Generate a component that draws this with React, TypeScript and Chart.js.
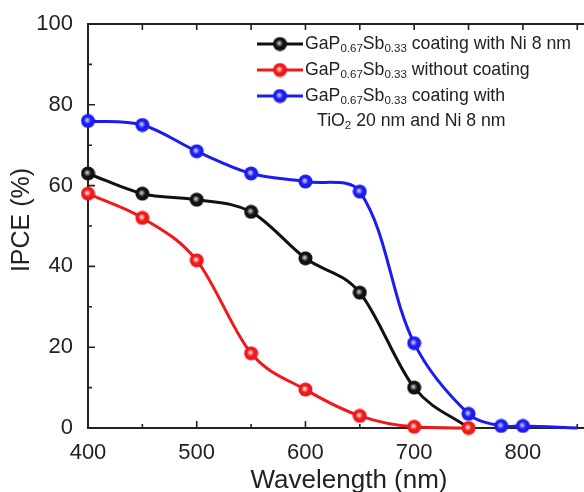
import React, { useEffect, useRef } from "react";
import { Chart, registerables } from "chart.js";

Chart.register(...registerables);

const wavelengthsBlack = [400, 450, 500, 550, 600, 650, 700, 750];
const ipceBlack = [63, 58, 56.5, 53.5, 42, 33.5, 10, 0];
const wavelengthsRed = [400, 450, 500, 550, 600, 650, 700, 750];
const ipceRed = [58, 52, 41.5, 18.5, 9.5, 3, 0.3, 0];
const wavelengthsBlue = [400, 450, 500, 550, 600, 650, 700, 750, 780, 800, 850];
const ipceBlue = [76, 75, 68.5, 63, 61, 58.5, 21, 3.5, 0.5, 0.5, 0];
const xTickLabels = [400, 500, 600, 700, 800];
const yTickLabels = [0, 20, 40, 60, 80, 100];

const BLACK = "#111111";
const RED = "#f01818";
const BLUE = "#1c1cf0";
const FONT = "'Liberation Sans', Arial, sans-serif";
const TEXT = "#222222";

function makeMarker(color: string, light: string): HTMLCanvasElement {
  const c = document.createElement("canvas");
  const d = 15;
  c.width = d;
  c.height = d;
  const ctx = c.getContext("2d")!;
  const g = ctx.createRadialGradient(d / 2 - 1, d / 2 - 1, 0.5, d / 2, d / 2, d / 2);
  g.addColorStop(0, light);
  g.addColorStop(0.45, color);
  g.addColorStop(1, color);
  ctx.fillStyle = g;
  ctx.beginPath();
  ctx.arc(d / 2, d / 2, d / 2 - 0.5, 0, Math.PI * 2);
  ctx.fill();
  return c;
}

export default function App() {
  const ref = useRef<HTMLCanvasElement | null>(null);

  useEffect(() => {
    document.body.style.margin = "0";
    const mBlack = makeMarker(BLACK, "#c8c8c8");
    const mRed = makeMarker(RED, "#ffe0e0");
    const mBlue = makeMarker(BLUE, "#c8c8ff");

    const framePlugin = {
      id: "frame",
      beforeDatasetsDraw(chart: any) {
        const { ctx, chartArea } = chart;
        const xs = chart.scales.x;
        const ys = chart.scales.y;
        const L = chartArea.left, R = chart.width, T = chartArea.top, B = chartArea.bottom;
        ctx.save();
        ctx.strokeStyle = "#222";
        ctx.lineWidth = 2;
        ctx.beginPath();
        ctx.moveTo(R, T);
        ctx.lineTo(L, T);
        ctx.lineTo(L, B);
        ctx.lineTo(R, B);
        ctx.stroke();
        ctx.lineWidth = 1.6;
        ctx.beginPath();
        for (let v = 400; v <= 850; v += 50) {
          const px = xs.getPixelForValue(v);
          if (px > R) continue;
          const major = v % 100 === 0;
          ctx.moveTo(px, B);
          ctx.lineTo(px, B - (major ? 7 : 4));
          ctx.moveTo(px, T);
          ctx.lineTo(px, T + 6);
        }
        for (let v = 0; v <= 100; v += 10) {
          const py = ys.getPixelForValue(v);
          const major = v % 20 === 0;
          ctx.moveTo(L, py);
          ctx.lineTo(L + (major ? 7 : 4), py);
        }
        ctx.stroke();
        // axis titles
        ctx.fillStyle = TEXT;
        ctx.textAlign = "center";
        ctx.textBaseline = "middle";
        ctx.font = `26px ${FONT}`;
        ctx.fillText("Wavelength (nm)", 349, 481);
        ctx.font = `25px ${FONT}`;
        ctx.translate(22, 220);
        ctx.rotate(-Math.PI / 2);
        ctx.fillText("IPCE (%)", 0, 0);
        ctx.restore();
      },
      afterDraw(chart: any) {
        const { ctx } = chart;
        ctx.save();
        const rows = [
          { color: BLACK, marker: mBlack, y: 44, tail: " coating with Ni 8 nm" },
          { color: RED, marker: mRed, y: 70, tail: " without coating" },
          { color: BLUE, marker: mBlue, y: 96, tail: " coating with" },
        ];
        const big = `17.7px ${FONT}`;
        const small = `11.5px ${FONT}`;
        ctx.fillStyle = TEXT;
        ctx.textBaseline = "middle";
        ctx.textAlign = "left";
        for (const r of rows) {
          ctx.strokeStyle = r.color;
          ctx.lineWidth = 3;
          ctx.beginPath();
          ctx.moveTo(257, r.y);
          ctx.lineTo(303, r.y);
          ctx.stroke();
          ctx.drawImage(r.marker, 280 - 7.5, r.y - 7.5);
          let x = 305;
          const parts: [string, boolean][] = [["GaP", false], ["0.67", true], ["Sb", false], ["0.33", true], [r.tail, false]];
          for (const [t, sub] of parts) {
            ctx.font = sub ? small : big;
            ctx.fillText(t, x, sub ? r.y + 5 : r.y);
            x += ctx.measureText(t).width;
          }
        }
        let x = 317;
        const y4 = 121;
        const parts2: [string, boolean][] = [["TiO", false], ["2", true], [" 20 nm and Ni 8 nm", false]];
        for (const [t, sub] of parts2) {
          ctx.font = sub ? small : big;
          ctx.fillText(t, x, sub ? y4 + 5 : y4);
          x += ctx.measureText(t).width;
        }
        ctx.restore();
      },
    };

    const chart = new Chart(ref.current!, {
      type: "line",
      data: {
        datasets: [
          {
            label: "GaP0.67Sb0.33 coating with Ni 8 nm",
            data: wavelengthsBlack.map((x, i) => ({ x, y: ipceBlack[i] })),
            borderColor: BLACK,
            borderWidth: 3,
            pointStyle: mBlack as any,
            pointRadius: wavelengthsBlack.map((x) => (x === 750 ? 0 : 7)),
            cubicInterpolationMode: "monotone",
            clip: 10,
            order: 2,
          },
          {
            label: "GaP0.67Sb0.33 without coating",
            data: wavelengthsRed.map((x, i) => ({ x, y: ipceRed[i] })),
            borderColor: RED,
            borderWidth: 3,
            pointStyle: mRed as any,
            pointRadius: 7,
            cubicInterpolationMode: "monotone",
            clip: 10,
            order: 1,
          },
          {
            label: "GaP0.67Sb0.33 coating with TiO2 20 nm and Ni 8 nm",
            data: wavelengthsBlue.map((x, i) => ({ x, y: ipceBlue[i] })),
            borderColor: BLUE,
            borderWidth: 3,
            pointStyle: mBlue as any,
            pointRadius: wavelengthsBlue.map((x) => (x === 850 ? 0 : 7)),
            tension: 0.35,
            clip: 10,
            order: 3,
          },
        ],
      },
      options: {
        animation: false,
        responsive: false,
        maintainAspectRatio: false,
        layout: { padding: { top: 24, right: 0, left: 0, bottom: 0 } },
        plugins: { legend: { display: false }, tooltip: { enabled: false } },
        scales: {
          x: {
            type: "linear",
            min: 400,
            max: 847,
            border: { display: false },
            grid: { display: false },
            afterBuildTicks: (s: any) => {
              s.ticks = xTickLabels.map((v) => ({ value: v }));
            },
            afterFit: (s: any) => {
              s.height = 64;
            },
            ticks: {
              color: TEXT,
              font: { size: 22, family: FONT },
              padding: 4,
              maxRotation: 0,
              autoSkip: false,
            },
          },
          y: {
            min: 0,
            max: 100,
            border: { display: false },
            grid: { display: false },
            afterBuildTicks: (s: any) => {
              s.ticks = yTickLabels.map((v) => ({ value: v }));
            },
            afterFit: (s: any) => {
              s.width = 88;
            },
            ticks: {
              color: TEXT,
              font: { size: 22, family: FONT },
              padding: 7,
            },
          },
        },
      },
      plugins: [framePlugin],
    } as any);
    return () => chart.destroy();
  }, []);

  return (
    <div style={{ width: 584, height: 492 }}>
      <canvas ref={ref} width={584} height={492} style={{ width: 584, height: 492, display: "block" }} />
    </div>
  );
}
